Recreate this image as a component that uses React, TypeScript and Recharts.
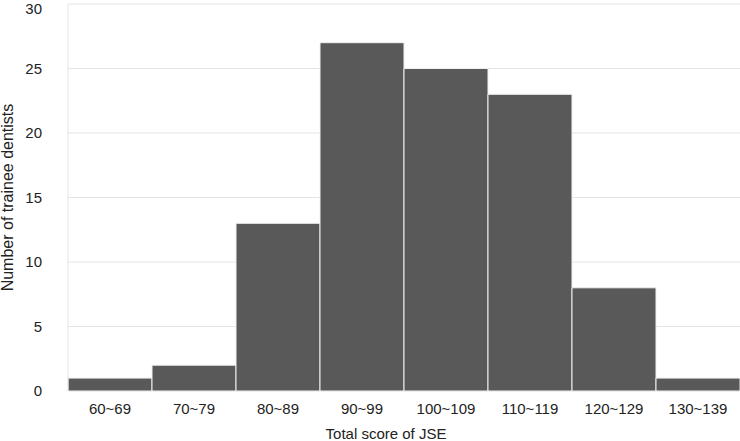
import { BarChart, Bar, XAxis, YAxis, CartesianGrid } from "recharts";

// score ranges and number of trainees in each
const scoreRanges = ["60~69", "70~79", "80~89", "90~99", "100~109", "110~119", "120~129", "130~139"];
const traineeCounts = [1, 2, 13, 27, 25, 23, 8, 1];
const yTicks = [0, 5, 10, 15, 20, 25, 30];

const data = scoreRanges.map((range, i) => ({ range, count: traineeCounts[i] }));

const font = "'Liberation Sans', Arial, Helvetica, sans-serif";

export default function App() {
  return (
    <div style={{ position: "absolute", left: 0, top: 0, background: "#fff", fontFamily: font }}>
      <BarChart
        width={740}
        height={441}
        data={data}
        margin={{ top: 4, right: 0, left: 0, bottom: 0 }}
        barCategoryGap={0}
        barGap={0}
      >
        <CartesianGrid vertical={false} stroke="#e3e3e3" strokeWidth={1} />
        <XAxis
          dataKey="range"
          height={50}
          tickSize={0}
          tickMargin={12}
          axisLine={false}
          tick={{ fill: "#222", fontSize: 15, fontFamily: font }}
          label={{
            value: "Total score of JSE",
            position: "insideBottom",
            offset: 2,
            dx: -18,
            fill: "#222",
            fontSize: 15,
            fontFamily: font,
          }}
        />
        <YAxis
          width={68}
          domain={[0, 30]}
          ticks={yTicks}
          tickSize={0}
          tickMargin={26}
          axisLine={{ stroke: "#e3e3e3" }}
          tick={{ fill: "#222", fontSize: 15, fontFamily: font }}
          label={{
            value: "Number of trainee dentists",
            angle: -90,
            position: "insideLeft",
            offset: 7,
            style: { textAnchor: "middle" },
            fill: "#222",
            fontSize: 16,
            fontFamily: font,
          }}
        />
        <Bar dataKey="count" fill="#595959" stroke="#f0f0f0" strokeWidth={1} isAnimationActive={false} />
      </BarChart>
    </div>
  );
}
